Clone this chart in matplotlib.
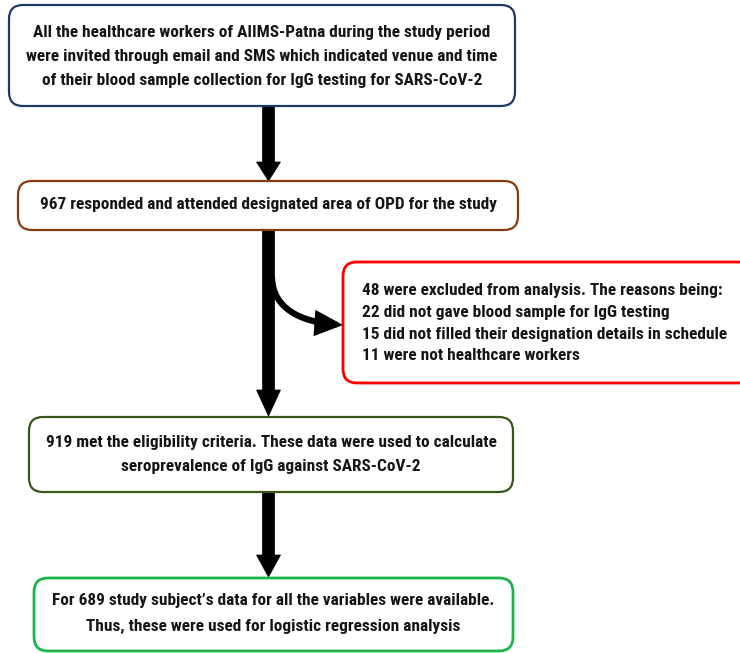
import matplotlib.pyplot as plt
from matplotlib.patches import FancyBboxPatch, FancyArrow, FancyArrowPatch
from matplotlib.path import Path

top_text = ["All the healthcare workers of AIIMS-Patna during the study period",
            "were invited through email and SMS which indicated venue and time",
            "of their blood sample collection for IgG testing for SARS-CoV-2"]
attend_text = ["967 responded and attended designated area of OPD for the study"]
excl_text = ["48 were excluded from analysis. The reasons being:",
             "22 did not gave blood sample for IgG testing",
             "15 did not filled their designation details in schedule",
             "11 were not healthcare workers"]
elig_text = ["919 met the eligibility criteria. These data were used to calculate",
             "seroprevalence of IgG against SARS-CoV-2"]
final_text = ["For 689 study subject\u2019s data for all the variables were available.",
              "Thus, these were used for logistic regression analysis"]

fig = plt.figure(figsize=(7.4, 6.53), dpi=100)
ax = fig.add_axes([0, 0, 1, 1])
ax.set_xlim(0, 740)
ax.set_ylim(653, 0)
ax.axis('off')

font = dict(family=['Roboto Condensed', 'DejaVu Sans'], fontweight='bold', fontsize=12.4, color='#151515')

def box(x0, y0, x1, y1, ec, lw=1.6):
	p = FancyBboxPatch((x0, y0), x1-x0, y1-y0, boxstyle="round,pad=0,rounding_size=14",
	                   fc='white', ec=ec, lw=lw, zorder=2)
	ax.add_patch(p)

def lines(lst, x, y0, dy, ha='center'):
	for i, s in enumerate(lst):
		ax.text(x, y0+i*dy, s, ha=ha, va='center', zorder=3, **font)

# arrows go first, boxes sit on top
def down(y0, y1, hl=20):
	ax.add_patch(FancyArrow(268.5, y0, 0, y1-y0, width=12, head_width=24, head_length=hl,
	                        length_includes_head=True, fc='black', ec='black', lw=0.5, zorder=1))

down(100, 181, 19)
down(225, 416, 26)
down(488, 577, 22)

# curved branch to exclusion box
verts = [(272, 278), (273, 308), (300, 322), (343, 325)]
curve = FancyArrowPatch(path=Path(verts, [Path.MOVETO, Path.CURVE4, Path.CURVE4, Path.CURVE4]),
                        arrowstyle='-|>,head_length=13,head_width=6', lw=4.5, color='black',
                        shrinkA=0, shrinkB=0, joinstyle='miter', zorder=1)
ax.add_patch(curve)

box(9, 5, 515, 106, '#1f3864')
lines(top_text, 262, 32, 24.5)

box(18, 181, 518, 230, '#843c0c')
lines(attend_text, 268, 205, 0)

box(343, 262, 752, 383, '#ff0000', lw=2)
lines(excl_text, 362, 290, 22, ha='left')

box(29, 417, 513, 492, '#38571a')
lines(elig_text, 271, 442, 25)

box(34, 578, 513, 651, '#1db54a', lw=2)
lines(final_text, 273, 600, 26)

fig.savefig('out.png', dpi=100)
